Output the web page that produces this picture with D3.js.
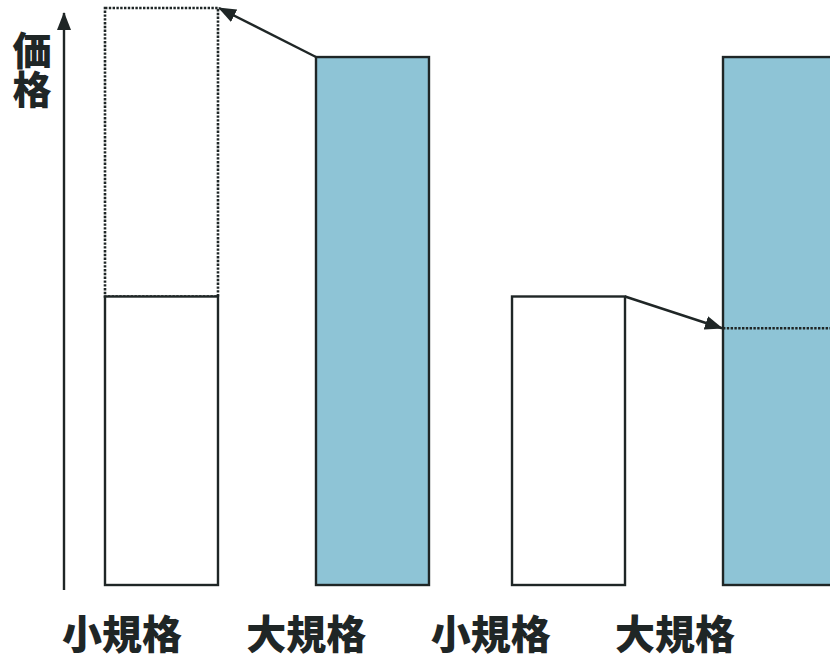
<!DOCTYPE html>
<html>
<head>
<meta charset="utf-8">
<script src="https://cdn.jsdelivr.net/npm/d3@7"></script>
<style>
  body { margin: 0; background: #fff; }
  svg { display: block; }
</style>
</head>
<body>
<div id="chart"></div>
<script>
// groups: current situation vs. after the change
var groups = ['before', 'after']
var kinds = ['小規格', '大規格']
var labels = ['小規格', '大規格', '小規格', '大規格']
var axisLabel = '価格'

// price of each bar (solid part)
var bars = [
    {group: 'before', kind: '小規格', price: 50},
    {group: 'before', kind: '大規格', price: 91.5},
    {group: 'after', kind: '小規格', price: 50},
    {group: 'after', kind: '大規格', price: 91.5}
]
// dotted levels: small size pushed up to, large size pulled down to
var shifts = [
    {group: 'before', from: '大規格', to: '小規格', fromPrice: 91.5, toPrice: 100},
    {group: 'after', from: '小規格', to: '大規格', fromPrice: 50, toPrice: 44.5}
]

var width = 830, height = 661
var ink = '#1f2626'
var blue = '#8ec4d6'

var svg = d3.select('#chart').append('svg')
    .attr('width', width)
    .attr('height', height)

var defs = svg.append('defs')
defs.append('marker')
    .attr('id', 'head')
    .attr('viewBox', '0 0 18 14')
    .attr('refX', 17).attr('refY', 7)
    .attr('markerWidth', 18).attr('markerHeight', 14)
    .attr('markerUnits', 'userSpaceOnUse')
    .attr('orient', 'auto')
  .append('path')
    .attr('d', 'M0,0 L18,7 L0,14 Z')
    .attr('fill', ink)

var y = d3.scaleLinear().domain([0, 100]).range([585, 8])
var outer = d3.scaleBand().domain(groups).range([105, 836]).paddingInner(0.204)
var inner = d3.scaleBand().domain(kinds).range([0, outer.bandwidth()]).paddingInner(0.4645)
var xl = d3.scalePoint().domain(d3.range(labels.length)).range([122, 675])

function bx(g, k) { return outer(g) + inner(k) }

// vertical price axis with arrow
svg.append('line')
    .attr('x1', 64).attr('x2', 64)
    .attr('y1', 590).attr('y2', y(100) + 5)
    .attr('stroke', ink)
    .attr('stroke-width', 2.4)
    .attr('marker-end', 'url(#head)')

// axis title written top to bottom
svg.append('text')
    .attr('font-family', '"Noto Sans CJK JP", sans-serif')
    .attr('font-weight', 900)
    .attr('font-size', 39)
    .attr('fill', ink)
    .attr('writing-mode', 'vertical-rl')
    .attr('x', 32)
    .attr('y', 31)
    .text(axisLabel)

// dotted expansion boxes (drawn first so solid bars sit on top)
var up = shifts.filter(s => s.toPrice > s.fromPrice)
svg.append('g')
    .selectAll('rect')
    .data(up)
    .join('rect')
    .attr('x', d => bx(d.group, d.to))
    .attr('y', d => y(d.toPrice))
    .attr('width', inner.bandwidth())
    .attr('height', d => y(50) - y(d.toPrice))
    .attr('fill', 'none')
    .attr('stroke', ink)
    .attr('stroke-width', 2.6)
    .attr('stroke-dasharray', '2.4,1.4')

// bars
svg.append('g')
    .selectAll('rect')
    .data(bars)
    .join('rect')
    .attr('x', d => bx(d.group, d.kind))
    .attr('y', d => y(d.price))
    .attr('width', inner.bandwidth())
    .attr('height', d => y(0) - y(d.price))
    .attr('fill', d => d.kind == '大規格' ? blue : '#fff')
    .attr('stroke', ink)
    .attr('stroke-width', 2.4)

// dotted lowered level inside the large bar
var down = shifts.filter(s => s.toPrice < s.fromPrice)
svg.append('g')
    .selectAll('line')
    .data(down)
    .join('line')
    .attr('x1', d => bx(d.group, d.to))
    .attr('x2', d => bx(d.group, d.to) + inner.bandwidth())
    .attr('y1', d => y(d.toPrice))
    .attr('y2', d => y(d.toPrice))
    .attr('stroke', ink)
    .attr('stroke-width', 2.4)
    .attr('stroke-dasharray', '2.4,1.4')

// arrows between bars
svg.append('g')
    .selectAll('line')
    .data(shifts)
    .join('line')
    .attr('x1', d => d.toPrice > d.fromPrice ? bx(d.group, d.from) : bx(d.group, d.from) + inner.bandwidth())
    .attr('y1', d => y(d.fromPrice))
    .attr('x2', d => d.toPrice > d.fromPrice ? bx(d.group, d.to) + inner.bandwidth() + 1 : bx(d.group, d.to) - 1)
    .attr('y2', d => y(d.toPrice))
    .attr('stroke', ink)
    .attr('stroke-width', 2.4)
    .attr('marker-end', 'url(#head)')

// category labels
svg.append('g')
    .attr('font-family', '"Noto Sans CJK JP", sans-serif')
    .attr('font-weight', 900)
    .attr('font-size', 40)
    .attr('fill', ink)
    .attr('text-anchor', 'middle')
    .selectAll('text')
    .data(labels)
    .join('text')
    .attr('x', (d, i) => xl(i))
    .attr('y', 649)
    .text(d => d)
</script>
</body>
</html>
